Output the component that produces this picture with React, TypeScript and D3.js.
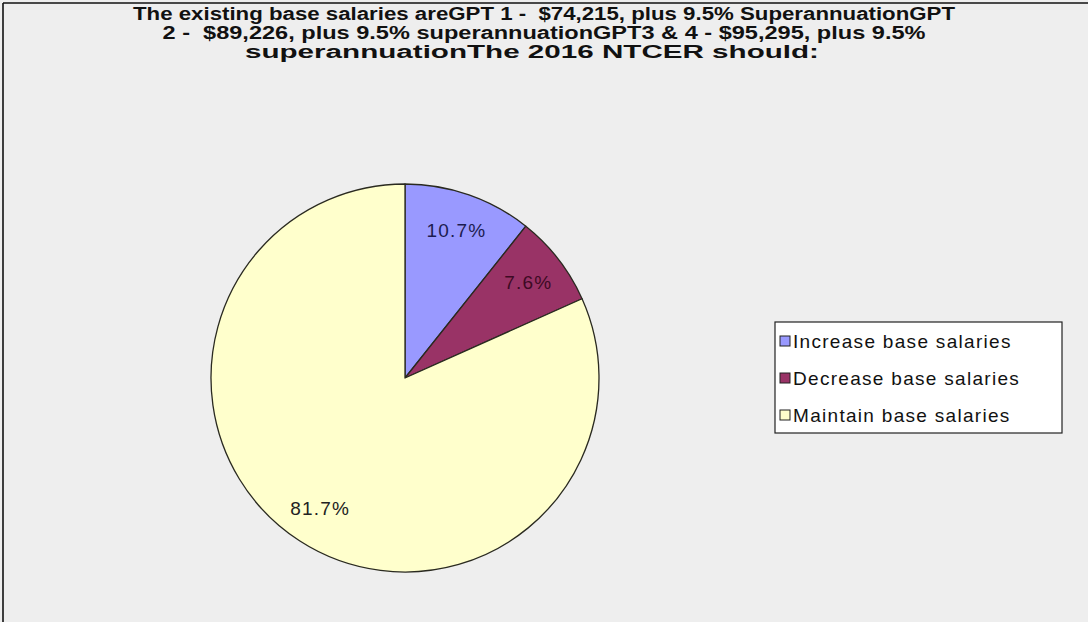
import React from 'react';
import * as d3 from 'd3';

const categories = ['Increase base salaries', 'Decrease base salaries', 'Maintain base salaries'];
const values = [10.7, 7.6, 81.7];
const labels = ['10.7%', '7.6%', '81.7%'];
const titleLines = [
  'The existing base salaries areGPT 1 -  $74,215, plus 9.5% SuperannuationGPT',
  '2 -  $89,226, plus 9.5% superannuationGPT3 & 4 - $95,295, plus 9.5%',
  'superannuationThe 2016 NTCER should:',
];
const colors = ['#9999ff', '#993366', '#ffffcc'];
const labelColors = ['#1c1c50', '#3d0a24', '#222222'];

const W = 1088;
const H = 622;

export default function App() {
  const cx = 405;
  const cy = 378;
  const r = 194;
  const pie = d3.pie<number>().sort(null).value((d) => d);
  const arcs = pie(values);
  const arc = d3.arc<d3.PieArcDatum<number>>().innerRadius(0).outerRadius(r);
  const labelArc = d3.arc<d3.PieArcDatum<number>>().innerRadius(156).outerRadius(156);

  const titleWidths = [822, 763, 574];
  const legendX = 775;
  const legendY = 322;
  const legendW = 287;
  const legendH = 111;
  const rowY = d3.scalePoint<string>().domain(categories).range([legendY + 19, legendY + 93]);

  return (
    <svg
      width={W}
      height={H}
      style={{ position: 'absolute', left: 0, top: 0, display: 'block' }}
      fontFamily="'Liberation Sans', Arial, sans-serif"
    >
      <rect x={0} y={0} width={W} height={H} fill="#eeeeee" />
      <line x1={3} y1={3} x2={W} y2={3} stroke="#111" strokeWidth={1.6} />
      <line x1={3} y1={3} x2={3} y2={H} stroke="#111" strokeWidth={1.6} />

      {titleLines.map((t, i) => (
        <text
          key={i}
          x={i === 2 ? 532 : 544}
          y={20 + i * 19}
          textAnchor="middle"
          fontWeight="bold"
          fontSize={17.5}
          fill="#111"
          textLength={titleWidths[i]}
          lengthAdjust="spacingAndGlyphs"
          style={{ whiteSpace: 'pre' }}
        >
          {t}
        </text>
      ))}

      <g transform={`translate(${cx},${cy})`}>
        {arcs.map((a, i) => (
          <path key={i} d={arc(a) || ''} fill={colors[i]} stroke="#2a2a20" strokeWidth={1.3} strokeLinejoin="round" />
        ))}
        {arcs.map((a, i) => {
          const [x, y] = labelArc.centroid(a);
          return (
            <text
              key={'l' + i}
              x={x}
              y={y}
              textAnchor="middle"
              dominantBaseline="central"
              fontSize={19}
              letterSpacing={1.2}
              fill={labelColors[i]}
            >
              {labels[i]}
            </text>
          );
        })}
      </g>

      <rect x={legendX} y={legendY} width={legendW} height={legendH} fill="#ffffff" stroke="#222" strokeWidth={1.2} />
      {categories.map((c, i) => {
        const y = rowY(c) as number;
        return (
          <g key={c}>
            <rect x={legendX + 5} y={y - 5} width={10} height={10} fill={colors[i]} stroke="#222" strokeWidth={1} />
            <text x={legendX + 18} y={y} dominantBaseline="central" fontSize={19} letterSpacing={1.3} fill="#111">
              {c}
            </text>
          </g>
        );
      })}
    </svg>
  );
}
